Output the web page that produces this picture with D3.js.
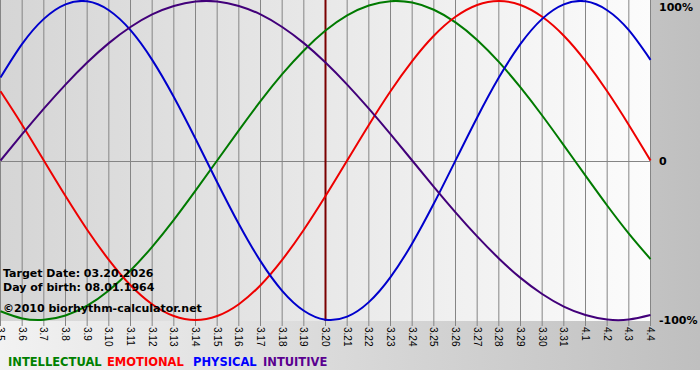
<!DOCTYPE html>
<html>
<head>
<meta charset="utf-8">
<script src="https://cdnjs.cloudflare.com/ajax/libs/d3/7.8.5/d3.min.js"></script>
<style>
  html, body { margin: 0; padding: 0; background: #fff; }
  svg { display: block; }
</style>
</head>
<body>
<script>
'use strict';

/* day labels, 3.5 .. 4.4 */
var days = ['3.5', '3.6', '3.7', '3.8', '3.9', '3.10', '3.11', '3.12', '3.13', '3.14', '3.15',
    '3.16', '3.17', '3.18', '3.19', '3.20', '3.21', '3.22', '3.23', '3.24', '3.25', '3.26',
    '3.27', '3.28', '3.29', '3.30', '3.31', '4.1', '4.2', '4.3', '4.4'];

var intellectual = [-0.945, -0.990, -0.999, -0.972, -0.910, -0.815, -0.690, -0.541, -0.372, -0.189, 0.000,
    0.189, 0.372, 0.541, 0.690, 0.815, 0.910, 0.972, 0.999, 0.990, 0.945, 0.866, 0.756, 0.618, 0.458, 0.282,
    0.095, -0.095, -0.282, -0.458, -0.618];
var emotional = [0.434, 0.223, 0.000, -0.223, -0.434, -0.623, -0.782, -0.901, -0.975, -1.000, -0.975,
    -0.901, -0.782, -0.623, -0.434, -0.223, 0.000, 0.223, 0.434, 0.623, 0.782, 0.901, 0.975, 1.000, 0.975,
    0.901, 0.782, 0.623, 0.434, 0.223, 0.000];
var physical = [0.520, 0.731, 0.888, 0.979, 0.998, 0.942, 0.817, 0.631, 0.398, 0.136, -0.136,
    -0.398, -0.631, -0.817, -0.942, -0.998, -0.979, -0.888, -0.731, -0.520, -0.270, 0.000, 0.270, 0.520,
    0.731, 0.888, 0.979, 0.998, 0.942, 0.817, 0.631];
var intuitive = [0.000, 0.165, 0.325, 0.476, 0.614, 0.736, 0.837, 0.916, 0.969, 0.997, 0.997,
    0.969, 0.916, 0.837, 0.736, 0.614, 0.476, 0.325, 0.165, 0.000, -0.165, -0.325, -0.476, -0.614, -0.736,
    -0.837, -0.916, -0.969, -0.997, -0.997, -0.969];

var yTicks = [1, 0, -1];
var yTickLabels = ['100%', '0', '-100%'];
var targetDay = '3.20';
var infoLines = ['Target Date: 03.20.2026', 'Day of birth: 08.01.1964', '\u00a92010 biorhythm-calculator.net'];

var series = [
    { name: 'INTELLECTUAL', values: intellectual, line: '#007a00', text: '#008000', lx: 8 },
    { name: 'EMOTIONAL', values: emotional, line: '#ee0000', text: '#ff0000', lx: 107 },
    { name: 'PHYSICAL', values: physical, line: '#0000cc', text: '#0000ff', lx: 193 },
    { name: 'INTUITIVE', values: intuitive, line: '#42007a', text: '#5a0090', lx: 263 }
];

var w = 700,
    h = 380,
    plotW = 651,
    plotH = 321;

var svg = d3.select('body')
    .append('svg')
    .attr('width', w)
    .attr('height', h);

var defs = svg.append('defs');
var bgGrad = defs.append('linearGradient').attr('id', 'bg');
bgGrad.append('stop').attr('offset', '0%').attr('stop-color', '#f2f2f2');
bgGrad.append('stop').attr('offset', '100%').attr('stop-color', '#bfbfbf');
var plotGrad = defs.append('linearGradient').attr('id', 'plotbg');
plotGrad.append('stop').attr('offset', '0%').attr('stop-color', '#d5d5d5');
plotGrad.append('stop').attr('offset', '100%').attr('stop-color', '#fcfcfc');

svg.append('rect')
    .attr('width', w)
    .attr('height', 370)
    .attr('fill', 'url(#bg)');

svg.append('rect')
    .attr('width', plotW)
    .attr('height', plotH)
    .attr('fill', 'url(#plotbg)');

var x = d3.scalePoint()
    .domain(days)
    .range([0.5, plotW - 0.5]);

var y = d3.scaleLinear()
    .domain([-1, 1])
    .range([plotH - 1, 1]);

/* vertical day lines + ticks */
svg.append('g')
    .selectAll('line')
    .data(days)
    .enter()
    .append('line')
    .attr('x1', function(d) { return x(d); })
    .attr('x2', function(d) { return x(d); })
    .attr('y1', 0)
    .attr('y2', plotH + 5)
    .attr('stroke', '#858585')
    .attr('stroke-width', 1);

/* zero line */
svg.append('line')
    .attr('x1', 0)
    .attr('x2', plotW)
    .attr('y1', Math.round(y(0)) + 0.5)
    .attr('y2', Math.round(y(0)) + 0.5)
    .attr('stroke', '#858585');

/* day labels, rotated */
svg.append('g')
    .selectAll('text')
    .data(days)
    .enter()
    .append('text')
    .attr('transform', function(d) {
        return 'translate(' + x(d) + ',' + (plotH + 6) + ') rotate(90)';
    })
    .attr('dy', '0.35em')
    .attr('font-family', 'Liberation Sans, Arial, sans-serif')
    .attr('font-size', '10px')
    .attr('fill', '#000')
    .text(function(d) { return d; });

/* percent labels */
svg.append('g')
    .selectAll('text')
    .data(yTicks)
    .enter()
    .append('text')
    .attr('x', 659)
    .attr('dy', '0.38em')
    .attr('font-family', 'DejaVu Sans, Verdana, sans-serif')
    .attr('font-weight', 'bold')
    .attr('font-size', '11px')
    .attr('fill', '#000')
    .text(function(d, i) { return yTickLabels[i]; })
    .attr('y', function(d) { return Math.min(Math.max(y(d), 7), 321); });

/* target day marker */
svg.append('line')
    .attr('x1', x(targetDay))
    .attr('x2', x(targetDay))
    .attr('y1', 0)
    .attr('y2', plotH)
    .attr('stroke', '#7a0000')
    .attr('stroke-width', 2);

var line = d3.line()
    .x(function(d, i) { return x(days[i]); })
    .y(function(d) { return y(d); })
    .curve(d3.curveNatural);

svg.append('g')
    .selectAll('path')
    .data(series)
    .enter()
    .append('path')
    .attr('d', function(d) { return line(d.values); })
    .attr('fill', 'none')
    .attr('stroke', function(d) { return d.line; })
    .attr('stroke-width', 2);

/* info text */
svg.append('g')
    .selectAll('text')
    .data(infoLines)
    .enter()
    .append('text')
    .attr('x', 3)
    .attr('y', function(d, i) { return [277, 291, 312][i]; })
    .attr('font-family', 'DejaVu Sans, Verdana, sans-serif')
    .attr('font-weight', 'bold')
    .attr('font-size', '11px')
    .attr('fill', '#000')
    .text(function(d) { return d; });

/* legend */
svg.append('g')
    .selectAll('text')
    .data(series)
    .enter()
    .append('text')
    .attr('x', function(d) { return d.lx; })
    .attr('y', 366)
    .attr('font-family', 'DejaVu Sans, Verdana, sans-serif')
    .attr('font-weight', 'bold')
    .attr('font-size', '11.5px')
    .attr('fill', function(d) { return d.text; })
    .text(function(d) { return d.name; });
</script>
</body>
</html>
